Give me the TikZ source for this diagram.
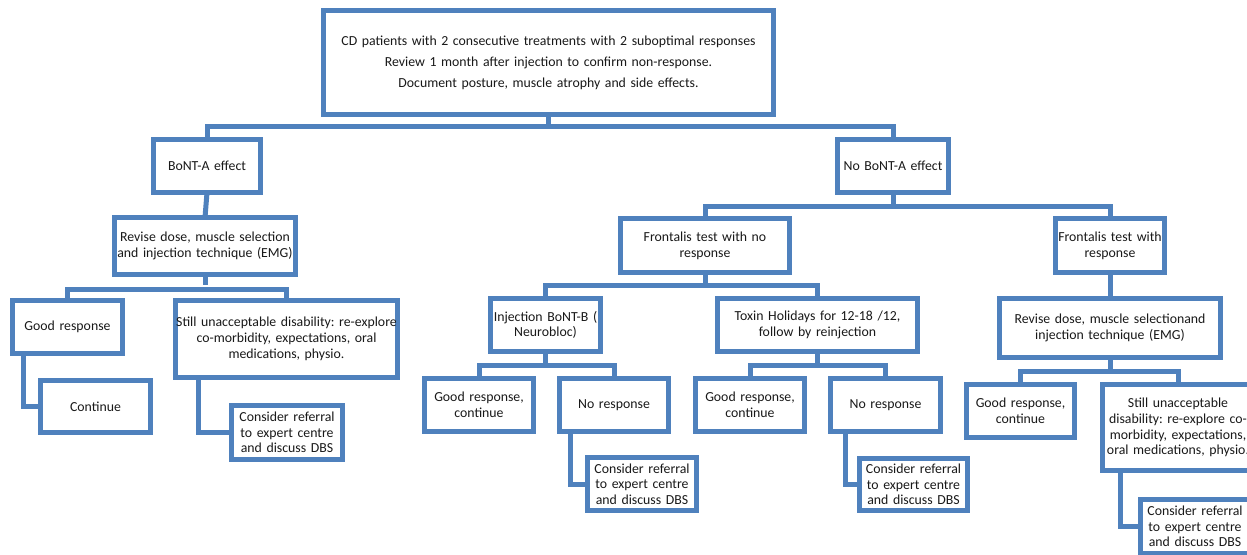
\documentclass[tikz,border=0pt]{standalone}
\usepackage{fontspec}
\setmainfont{Carlito}
\frenchspacing
\definecolor{bl}{HTML}{4F81BD}
\tikzset{
  box/.style={draw=bl, line width=5pt, inner sep=0pt, outer sep=0pt, align=center,
    font=\fontsize{13.8}{15.7}\selectfont\frenchspacing, text=black!90},
  conn/.style={draw=bl, line width=5pt}
}
\newcommand\mybox[6]{%
  \pgfmathsetmacro\mybw{#4-#2-5}%
  \pgfmathsetmacro\mybh{#5-#3-5}%
  \pgfmathsetmacro\mycx{(#2+#4)/2}%
  \pgfmathsetmacro\mycy{(#3+#5)/2}%
  \node[box, text width=\mybw pt, minimum height=\mybh pt] (#1) at (\mycx,\mycy) {#6};}
\begin{document}
\begin{tikzpicture}[x=1pt,y=-1pt]
\useasboundingbox (0,0) rectangle (1247,554);
\clip (0,0) rectangle (1247,554);
\fill[white] (0,0) rectangle (1247,554);
\mybox{top}{321}{8}{776}{117}{CD patients with 2 consecutive treatments with 2 suboptimal responses\\[5.2pt]Review 1 month after injection to confirm non-response.\\[5.2pt]Document posture, muscle atrophy and side effects.}
\mybox{bonta}{151}{137}{263}{195}{BoNT-A effect}
\mybox{nobonta}{835}{137}{951}{195}{No BoNT-A effect}
\mybox{rev1}{112}{215}{298}{277}{Revise dose, muscle selection\\and injection technique (EMG)}
\mybox{good1}{10}{298}{125}{356}{Good response}
\mybox{still1}{173}{298}{400}{380}{Still unacceptable disability: re-explore\\co-morbidity, expectations, oral\\medications, physio.}
\mybox{cont1}{38}{378}{153}{435}{Continue}
\mybox{ref1}{229}{403}{345}{462}{Consider referral\\to expert centre\\and discuss DBS}
\mybox{fnr}{618}{216}{792}{275}{Frontalis test with no\\response}
\mybox{fr}{1053}{216}{1167}{275}{Frontalis test with\\response}
\mybox{injb}{488}{296}{603}{354}{Injection BoNT-B (\\Neurobloc)}
\mybox{toxh}{715}{296}{920}{354}{Toxin Holidays for 12-18 /12,\\follow by reinjection}
\mybox{good2}{422}{376}{536}{434}{Good response,\\continue}
\mybox{nr2}{557}{376}{671}{434}{No response}
\mybox{ref2}{585}{455}{699}{513}{Consider referral\\to expert centre\\and discuss DBS}
\mybox{good3}{693}{376}{807}{434}{Good response,\\continue}
\mybox{nr3}{828}{376}{943}{434}{No response}
\mybox{ref3}{857}{456}{970}{513}{Consider referral\\to expert centre\\and discuss DBS}
\mybox{rev2}{997}{296}{1223}{360}{Revise dose, muscle selectionand\\injection technique (EMG)}
\mybox{good4}{964}{382}{1077}{440}{Good response,\\continue}
\mybox{still4}{1100}{382}{1256}{473}{Still unacceptable\\disability: re-explore co-\\morbidity, expectations,\\oral medications, physio.}
\mybox{ref4}{1138}{497}{1252}{556}{Consider referral\\to expert centre\\and discuss DBS}
% tree connectors
\draw[conn] (top.south) -- ++(0,11.5);
\draw[conn] (bonta.north) -- ++(0,-13.5) -| (nobonta.north);
\draw[conn] (bonta.south) -- (rev1.north);
\draw[conn] (rev1.south) -- ++(0,10);
\draw[conn] (good1.north) -- ++(0,-11) -| (still1.north);
\draw[conn] ([xshift=10.5pt]good1.south west) |- (cont1.west);
\draw[conn] ([xshift=22.5pt]still1.south west) |- (ref1.west);
\draw[conn] (nobonta.south) -- ++(0,11);
\draw[conn] (fnr.north) -- ++(0,-12.5) -| (fr.north);
\draw[conn] (fnr.south) -- ++(0,10);
\draw[conn] (injb.north) -- ++(0,-13.5) -| (toxh.north);
\draw[conn] (injb.south) -- ++(0,11);
\draw[conn] (good2.north) -- ++(0,-13.5) -| (nr2.north);
\draw[conn] ([xshift=10.5pt]nr2.south west) |- (ref2.west);
\draw[conn] (toxh.south) -- ++(0,11);
\draw[conn] (good3.north) -- ++(0,-13.5) -| (nr3.north);
\draw[conn] ([xshift=14.5pt]nr3.south west) |- (ref3.west);
\draw[conn] (fr.south) -- (rev2.north);
\draw[conn] (rev2.south) -- ++(0,11);
\draw[conn] (good4.north) -- ++(0,-13.5) -| (still4.north);
\draw[conn] ([xshift=17.5pt]still4.south west) |- (ref4.west);
\end{tikzpicture}
\end{document}
